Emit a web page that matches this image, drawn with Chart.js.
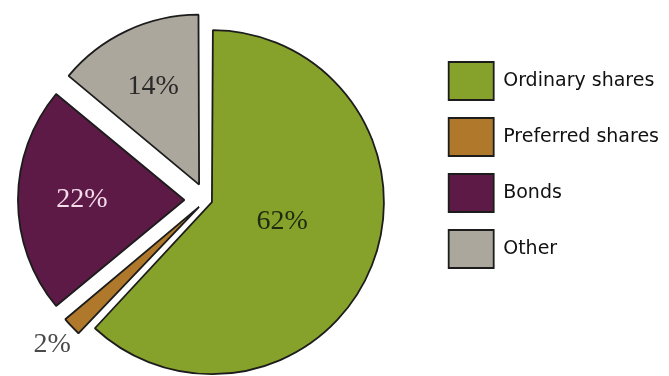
<!DOCTYPE html>
<html><head><meta charset="utf-8">
<script src="https://cdn.jsdelivr.net/npm/chart.js@4/dist/chart.umd.min.js"></script>
<style>html,body{margin:0;padding:0;background:#fff;overflow:hidden;width:669px;height:376px}#wrap{width:687px;height:376px;position:relative;margin-left:-18px}</style>
</head><body><div id="wrap"><canvas id="c"></canvas></div>
<script>
const categories = ['Ordinary shares', 'Preferred shares', 'Bonds', 'Other'];
const shares = [62, 2, 22, 14];
const valueLabels = ['62%', '2%', '22%', '14%'];
const sliceColors = ['#87a22a', '#b0782a', '#5d1a46', '#aca79d'];
const labelColors = ['#1f2a10', '#4a4a4a', '#f3dbe9', '#2a2a2a'];

const labelPlugin = {
  id: 'sliceLabels',
  afterDatasetsDraw(chart, args, opts) {
    const ctx = chart.ctx;
    const meta = chart.getDatasetMeta(0);
    meta.data.forEach((arc, i) => {
      const p = arc.getProps(['x', 'y', 'startAngle', 'endAngle', 'outerRadius'], true);
      const mid = (p.startAngle + p.endAngle) / 2 + opts.angleShift[i] * Math.PI / 180;
      const r = p.outerRadius * opts.radius[i];
      ctx.save();
      ctx.font = opts.font;
      ctx.fillStyle = labelColors[i];
      ctx.textAlign = 'center';
      ctx.textBaseline = 'middle';
      ctx.fillText(valueLabels[i], p.x + Math.cos(mid) * r, p.y + Math.sin(mid) * r);
      ctx.restore();
    });
  }
};

new Chart(document.getElementById('c'), {
  type: 'pie',
  data: {
    labels: categories,
    datasets: [{
      data: shares,
      backgroundColor: sliceColors,
      borderColor: '#1c1c1c',
      borderWidth: 1.8,
      offset: [24, 40, 88, 68],
      hoverOffset: 0,
      radius: 166
    }]
  },
  options: {
    responsive: true,
    maintainAspectRatio: false,
    animation: false,
    events: [],
    layout: { padding: { top: 44, bottom: 20, left: 0, right: 0 } },
    plugins: {
      tooltip: { enabled: false },
      legend: {
        position: 'right',
        align: 'start',
        labels: {
          boxWidth: 45,
          boxHeight: 38,
          padding: 18,
          color: '#111',
          font: { family: 'DejaVu Sans', size: 19 }
        }
      },
      sliceLabels: {
        radius: [0.475, 1.275, 0.75, 0.754],
        angleShift: [-5.6, 0, 0, 0],
        font: '28px "Liberation Serif"'
      }
    }
  },
  plugins: [labelPlugin]
});
</script>
</body></html>
